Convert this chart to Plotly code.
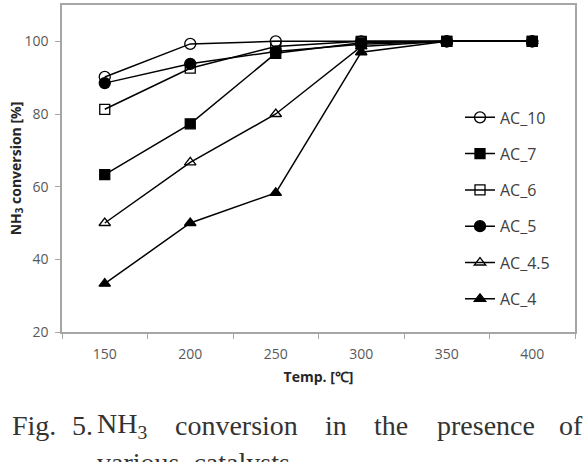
import plotly.graph_objects as go

temps = ["150", "200", "250", "300", "350", "400"]
series_names = ["AC_10", "AC_7", "AC_6", "AC_5", "AC_4.5", "AC_4"]
ac_10 = [90.2, 99.3, 100.0, 100.0, 100.0, 100.0]
ac_7 = [63.3, 77.3, 96.7, 99.6, 100.0, 100.0]
ac_6 = [81.3, 92.6, 98.6, 100.0, 100.0, 100.0]
ac_5 = [88.5, 93.8, 97.2, 99.2, 100.0, 100.0]
ac_45 = [50.0, 66.7, 80.0, 98.6, 100.0, 100.0]
ac_4 = [33.3, 50.0, 58.3, 97.0, 100.0, 100.0]
y_ticks = [20, 40, 60, 80, 100]

values = [ac_10, ac_7, ac_6, ac_5, ac_45, ac_4]
symbols = ["circle-open", "square", "square-open", "circle", "triangle-up-open", "triangle-up"]
sizes = [11, 10, 10, 11, 10, 10]

W, H = 583, 462
ML, MR, MT, MB = 62, 8, 3, 130
PW, PH = W - ML - MR, H - MT - MB

def px(x):
    return (x - ML) / PW

def py(y):
    return (H - MB - y) / PH

fig = go.Figure()
for i, (name, vals) in enumerate(zip(series_names, values)):
    fig.add_trace(go.Scatter(
        x=temps, y=vals, name=name, mode="lines+markers",
        line=dict(color="black", width=1.5),
        marker=dict(symbol=symbols[i], size=sizes[i], color="black",
                    line=dict(color="black", width=1.3)),
        legendgroup=name,
    ))

fig.update_layout(
    width=W, height=H,
    margin=dict(l=ML, r=MR, t=MT, b=MB),
    paper_bgcolor="white", plot_bgcolor="white",
    font=dict(family="Open Sans", color="#595959", size=14),
    legend=dict(x=px(460), y=py(99), xanchor="left", yanchor="top",
                bgcolor="rgba(0,0,0,0)", font=dict(size=16, color="#404040"),
                itemwidth=30, tracegroupgap=12.5, traceorder="grouped"),
    showlegend=True,
)
fig.update_xaxes(
    type="category", range=[-0.5, 5.5],
    showline=True, mirror=True, linecolor="#a6a6a6", linewidth=1.5,
    ticks="outside", tickson="boundaries", ticklen=5, tickcolor="#a6a6a6",
    showgrid=False, tickfont=dict(size=14, color="#595959"), ticklabelstandoff=8,
    title=dict(text="<b>Temp. [℃]</b>", font=dict(size=14, color="#262626"), standoff=11),
)
fig.update_yaxes(
    range=[20, 110], tickvals=y_ticks,
    showline=True, mirror=True, linecolor="#a6a6a6", linewidth=1.5,
    ticks="outside", ticklen=5, tickcolor="#a6a6a6",
    showgrid=False, zeroline=False, tickfont=dict(size=14, color="#595959"), ticklabelstandoff=4,
    title=dict(text="<b>NH<sub>3</sub> conversion [%]</b>", font=dict(size=14, color="#262626"), standoff=0),
)

caption_words = [("Fig.", 10), ("5.", 70), ("NH<sub>3</sub>", 95), ("conversion", 173),
                 ("in", 323), ("the", 372), ("presence", 435), ("of", 557)]
for word, xl in caption_words:
    fig.add_annotation(text=word, x=px(xl), y=py(426), xref="paper", yref="paper",
                       xanchor="left", yanchor="middle", showarrow=False,
                       font=dict(family="Liberation Serif", size=28, color="#333333"))
fig.add_annotation(text="various  catalysts", x=px(95), y=py(463), xref="paper", yref="paper",
                   xanchor="left", yanchor="middle", showarrow=False,
                   font=dict(family="Liberation Serif", size=28, color="#333333"))

fig.write_html("out.html")
